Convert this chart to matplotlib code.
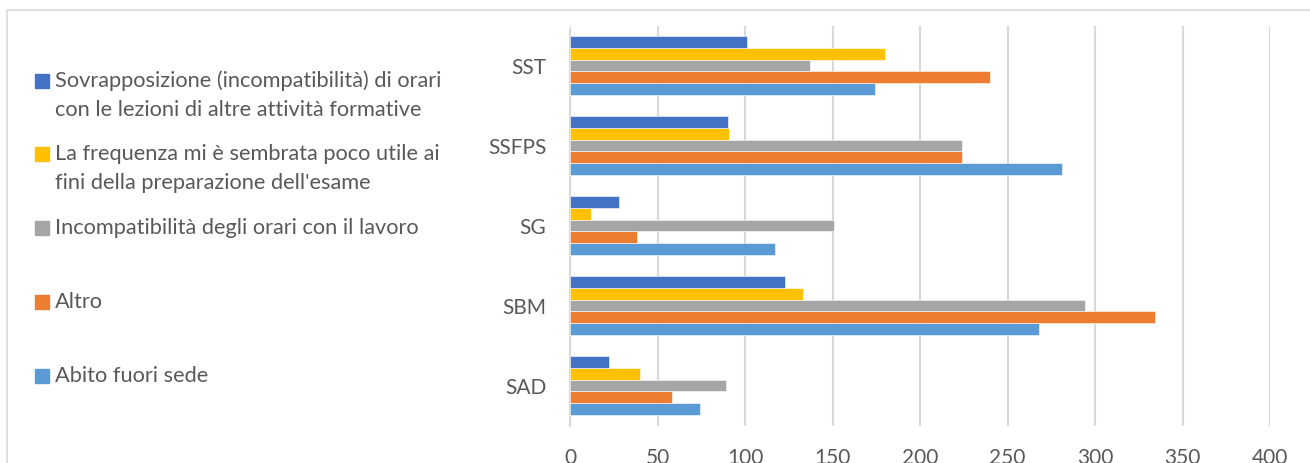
import matplotlib.pyplot as plt
import numpy as np
from matplotlib.patches import Rectangle

plt.rcParams['font.family'] = ['Lato', 'DejaVu Sans']

# categories, bottom to top as drawn
categories = ['SAD', 'SBM', 'SG', 'SSFPS', 'SST']

# series in Excel order (first series drawn at the bottom of each group)
abito = [74, 268, 117, 281, 174]
altro = [58, 334, 38, 224, 240]
lavoro = [89, 294, 151, 224, 137]
frequenza = [40, 133, 12, 91, 180]
sovrapp = [22, 123, 28, 90, 101]

series = [abito, altro, lavoro, frequenza, sovrapp]
names = ['Abito fuori sede',
         'Altro',
         'Incompatibilità degli orari con il lavoro',
         "La frequenza mi è sembrata poco utile ai\nfini della preparazione dell'esame",
         'Sovrapposizione (incompatibilità) di orari\ncon le lezioni di altre attività formative']
colors = ['#5B9BD5', '#ED7D31', '#A5A5A5', '#FFC000', '#4472C4']

W, H = 1310, 463
fig = plt.figure(figsize=(W / 100, H / 100), dpi=100)
ax = fig.add_axes([570 / W, 37.5 / H, 700 / W, 400 / H])

y = np.arange(len(categories))
h = 0.147
for i, vals in enumerate(series):
    ax.barh(y + (i - 2) * h, vals, height=h, color=colors[i],
            edgecolor='white', linewidth=0.4, zorder=3)

ax.set_xlim(0, 400)
ax.set_ylim(-0.5, len(categories) - 0.5)
ax.set_xticks(np.arange(0, 401, 50))
ax.set_yticks(y)
ax.set_yticklabels(categories)
ax.grid(axis='x', color='#D9D9D9', linewidth=1.5, zorder=0)
for s in ['top', 'right', 'bottom']:
    ax.spines[s].set_visible(False)
ax.spines['left'].set_color('#D9D9D9')
ax.spines['left'].set_linewidth(1.5)
ax.spines['left'].set_bounds(-0.5, 4.44)
ax.tick_params(axis='both', length=0, labelsize=15, labelcolor='#595959')
ax.tick_params(axis='y', pad=17)
ax.tick_params(axis='x', pad=16)

# legend, top entry is the last series
baselines = [87, 160, 234, 308, 382]
for k, i in enumerate(range(len(series) - 1, -1, -1)):
    b = baselines[k]
    fig.patches.append(Rectangle((35 / W, 1 - (b + 1) / H), 14 / W, 14 / H,
                                 transform=fig.transFigure, color=colors[i]))
    for j, line in enumerate(names[i].split('\n')):
        fig.text(55 / W, 1 - (b + 29 * j) / H, line, fontsize=15.7,
                 color='#595959', va='baseline', ha='left')

# chart border
fig.patches.append(Rectangle((7 / W, -0.1), 1.2, 1 - 10 / H + 0.1,
                             transform=fig.transFigure, fill=False,
                             edgecolor='#D9D9D9', linewidth=1.2))

fig.savefig('out.png', dpi=100)
